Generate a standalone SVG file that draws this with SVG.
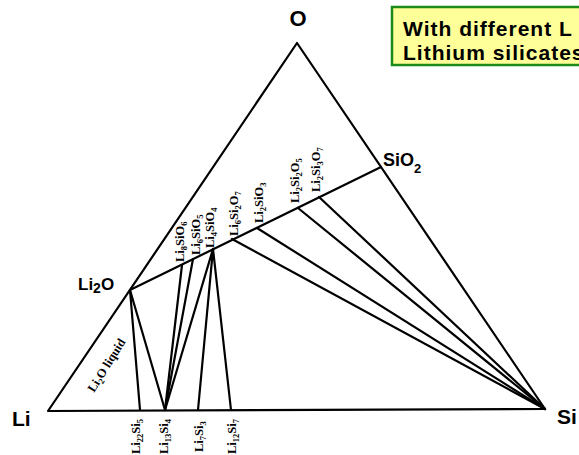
<svg xmlns="http://www.w3.org/2000/svg" width="579" height="455" viewBox="0 0 579 455">
<style>
.ln{stroke:#000;stroke-width:2.2;fill:none;stroke-linecap:round;stroke-linejoin:round}
.big{font-family:"Liberation Sans",Arial,sans-serif;font-weight:bold;fill:#000}
.sm{font-family:"Liberation Serif","Times New Roman",serif;font-weight:bold;font-size:12.5px;fill:#000}
.sub{font-size:8.5px}
.note{font-family:"Liberation Sans",Arial,sans-serif;font-weight:bold;font-size:21px;letter-spacing:1px;fill:#000}
</style>
<rect width="579" height="455" fill="#fff"/>
<g id="connectors">
<polygon class="ln" points="48,411 297,43 545,409"/>
<line class="ln" x1="130" y1="290" x2="381" y2="167"/>
<line class="ln" x1="130" y1="290" x2="140" y2="410"/>
<line class="ln" x1="130" y1="290" x2="165" y2="410"/>
<line class="ln" x1="182" y1="265" x2="165" y2="410"/>
<line class="ln" x1="193" y1="259" x2="165" y2="410"/>
<line class="ln" x1="213" y1="249" x2="165" y2="410"/>
<line class="ln" x1="213" y1="249" x2="198" y2="410"/>
<line class="ln" x1="213" y1="249" x2="231" y2="410"/>
<line class="ln" x1="232" y1="239" x2="545" y2="409"/>
<line class="ln" x1="257" y1="228" x2="545" y2="409"/>
<line class="ln" x1="298" y1="208" x2="545" y2="409"/>
<line class="ln" x1="319" y1="197" x2="545" y2="409"/>
</g>
<g id="legend">
<rect x="392" y="7" width="200" height="58" fill="#ffff99" stroke="#1a8a1a" stroke-width="2.5"/>
<text class="note" x="403" y="36">With different L</text>
<text class="note" x="403" y="60">Lithium silicates</text>
</g>
<g id="node-O"><text class="big" x="298" y="26" font-size="22" text-anchor="middle">O</text></g>
<g id="node-Li"><text class="big" x="12" y="426" font-size="21">Li</text></g>
<g id="node-Si"><text class="big" x="557" y="424" font-size="21">Si</text></g>
<g id="node-SiO2"><text class="big" x="383" y="166" font-size="18">SiO<tspan font-size="13" dy="7">2</tspan></text></g>
<g id="node-Li2O"><text class="big" x="78" y="290" font-size="17">Li<tspan font-size="14" dy="3">2</tspan><tspan dy="-3">O</tspan></text></g>
<g id="labels-oxides">
<text class="sm" transform="translate(184,262) rotate(-90)">Li<tspan class="sub" dy="3">8</tspan><tspan dy="-3">SiO</tspan><tspan class="sub" dy="3">6</tspan></text>
<text class="sm" transform="translate(200,255) rotate(-90)">Li<tspan class="sub" dy="3">6</tspan><tspan dy="-3">SiO</tspan><tspan class="sub" dy="3">5</tspan></text>
<text class="sm" transform="translate(214,248) rotate(-90)">Li<tspan class="sub" dy="3">4</tspan><tspan dy="-3">SiO</tspan><tspan class="sub" dy="3">4</tspan></text>
<text class="sm" transform="translate(238,236) rotate(-90)">Li<tspan class="sub" dy="3">6</tspan><tspan dy="-3">Si</tspan><tspan class="sub" dy="3">2</tspan><tspan dy="-3">O</tspan><tspan class="sub" dy="3">7</tspan></text>
<text class="sm" transform="translate(263,223) rotate(-90)">Li<tspan class="sub" dy="3">2</tspan><tspan dy="-3">SiO</tspan><tspan class="sub" dy="3">3</tspan></text>
<text class="sm" transform="translate(299,203) rotate(-90)">Li<tspan class="sub" dy="3">2</tspan><tspan dy="-3">Si</tspan><tspan class="sub" dy="3">2</tspan><tspan dy="-3">O</tspan><tspan class="sub" dy="3">5</tspan></text>
<text class="sm" transform="translate(320,192) rotate(-90)">Li<tspan class="sub" dy="3">2</tspan><tspan dy="-3">Si</tspan><tspan class="sub" dy="3">3</tspan><tspan dy="-3">O</tspan><tspan class="sub" dy="3">7</tspan></text>
</g>
<g id="labels-silicides">
<text class="sm" transform="translate(140,454) rotate(-90)">Li<tspan class="sub" dy="3">22</tspan><tspan dy="-3">Si</tspan><tspan class="sub" dy="3">5</tspan></text>
<text class="sm" transform="translate(168,454) rotate(-90)">Li<tspan class="sub" dy="3">13</tspan><tspan dy="-3">Si</tspan><tspan class="sub" dy="3">4</tspan></text>
<text class="sm" transform="translate(203,452) rotate(-90)">Li<tspan class="sub" dy="3">7</tspan><tspan dy="-3">Si</tspan><tspan class="sub" dy="3">3</tspan></text>
<text class="sm" transform="translate(236,454) rotate(-90)">Li<tspan class="sub" dy="3">12</tspan><tspan dy="-3">Si</tspan><tspan class="sub" dy="3">7</tspan></text>
</g>
<g id="label-liquid">
<text class="sm" font-size="13.5" transform="translate(94,393) rotate(-58)">Li<tspan class="sub" dy="3">2</tspan><tspan dy="-3">O liquid</tspan></text>
</g>
</svg>
